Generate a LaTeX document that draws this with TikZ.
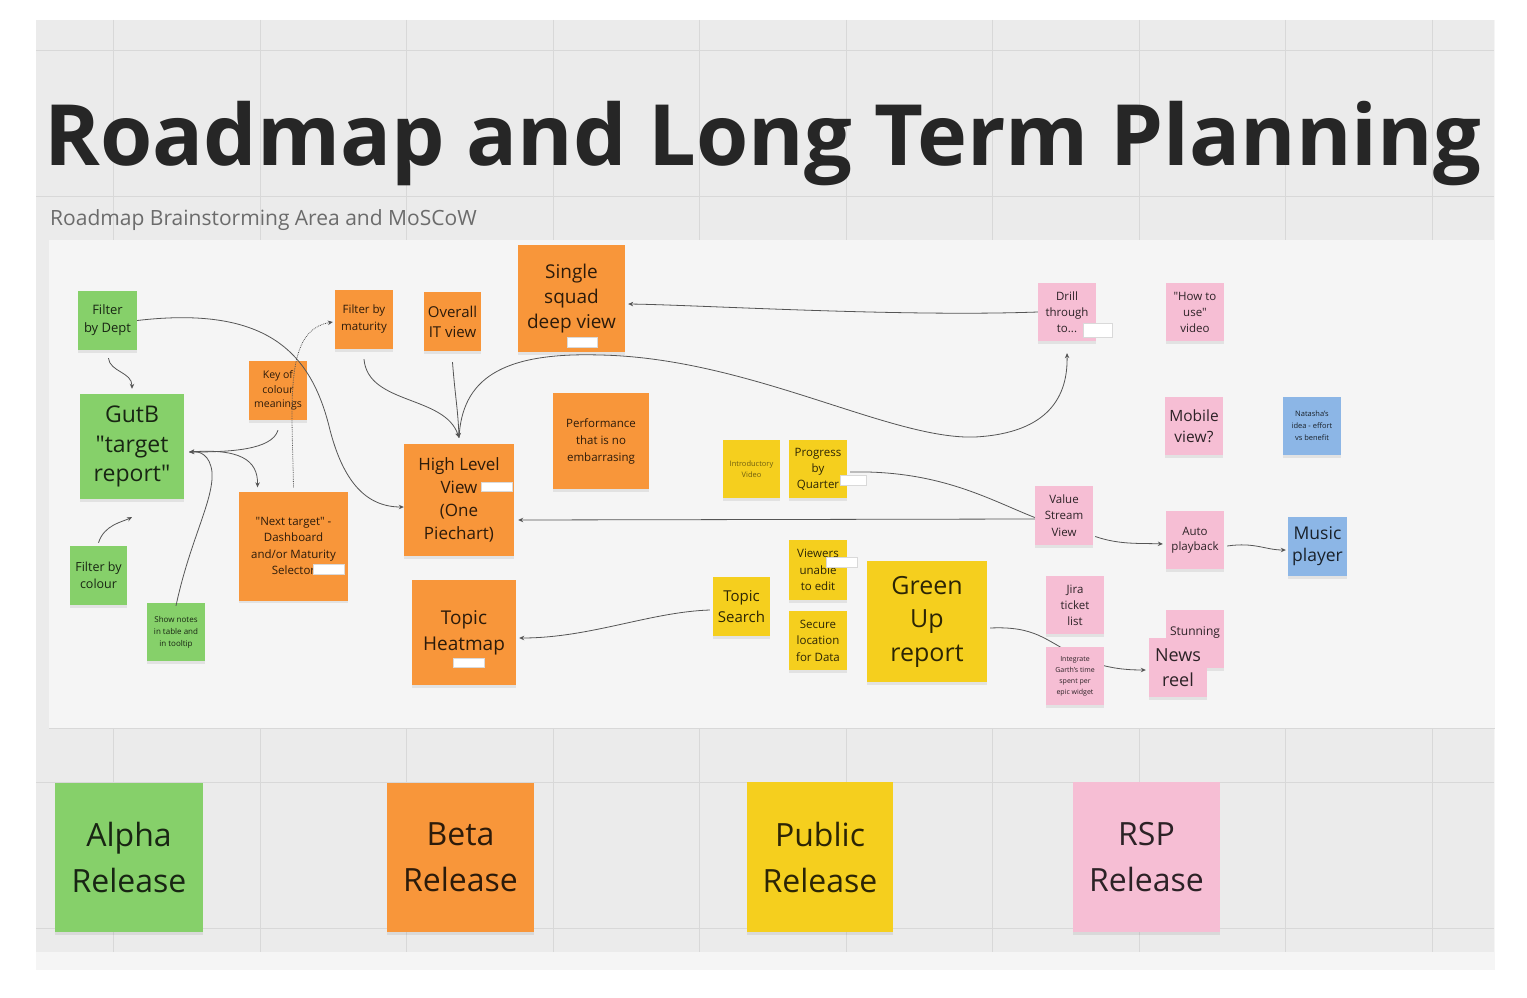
\documentclass[tikz,border=0pt]{standalone}
\usepackage{fontspec}
\setmainfont{Open Sans}
\usetikzlibrary{arrows.meta,shadows}

\definecolor{boardgray}{HTML}{EBEBEB}
\definecolor{gridgray}{HTML}{D8D8D8}
\definecolor{areawhite}{HTML}{F5F5F5}
\definecolor{notegreen}{HTML}{86D06A}
\definecolor{noteorange}{HTML}{F8963A}
\definecolor{noteyellow}{HTML}{F5CF1E}
\definecolor{notepink}{HTML}{F6BED4}
\definecolor{noteblue}{HTML}{8CB6E6}
\definecolor{wiregray}{HTML}{555555}

\newcommand\nf[2]{\fontsize{#1}{#2}\selectfont}
\newcommand\qq{\textquotedbl}

\pgfdeclarelayer{board}
\pgfdeclarelayer{wires}
\pgfsetlayers{board,wires,main}

\tikzset{
  note/.style={rectangle, align=center, inner sep=0pt, text=black, text opacity=0.82,
    drop shadow={shadow xshift=0pt, shadow yshift=-2.5pt, opacity=0.16}},
  sz/.style 2 args={minimum width=#1, minimum height=#2},
  gnote/.style={note, fill=notegreen},
  onote/.style={note, fill=noteorange},
  ynote/.style={note, fill=noteyellow},
  pnote/.style={note, fill=notepink},
  bnote/.style={note, fill=noteblue},
  wire/.style={draw=wiregray, line width=0.8pt, -{Stealth[length=5pt,width=4.5pt]}},
  badge/.style={fill=white, draw=black!15, line width=0.4pt},
}

\begin{document}
\begin{tikzpicture}[x=1pt,y=-1pt]
\useasboundingbox (0,0) rectangle (1527,998);

% board and grid
\begin{pgfonlayer}{board}
  \fill[white] (0,0) rectangle (1527,998);
  \fill[black!4] (36,20) rectangle (1495,970);
  \fill[boardgray] (36,20) rectangle (1494,952);
  \foreach \x in {113.5,260,406.5,553,699.5,846,992.5,1139,1285.5,1432}
    \draw[gridgray, line width=0.8pt] (\x,20) -- (\x,952);
  \foreach \y in {50,196,782,928}
    \draw[gridgray, line width=0.8pt] (36,\y) -- (1494,\y);
  \fill[areawhite] (49,240) rectangle (1495,728);
  \draw[gridgray, line width=0.6pt] (49,728) -- (1495,728);
\end{pgfonlayer}

\node[anchor=base west, inner sep=0pt, text=black!85] (title) at (44,165)
  {\resizebox{1437pt}{!}{\nf{88}{90}\bfseries Roadmap and Long Term Planning}};
\node[anchor=base west, inner sep=0pt, font=\nf{21}{24}, text=black!58] (sub) at (50,225) {Roadmap Brainstorming Area and MoSCoW};

% green notes
\node[gnote, sz={59pt}{59pt}, font=\nf{13}{18}] (fdept) at (107.5,320.5) {Filter\\by Dept};
\node[gnote, sz={104pt}{105pt}, font=\nf{23}{29.5}] (gutb) at (132,446.5) {GutB\\\qq target\\report\qq};
\node[gnote, sz={57pt}{59pt}, font=\nf{12.5}{17}] (fcolour) at (98.5,575.5) {Filter by\\colour};
\node[gnote, sz={58pt}{58pt}, font=\nf{8}{12}] (shownotes) at (176,632) {Show notes\\in table and\\in tooltip};

% orange notes
\node[onote, sz={58pt}{59pt}, font=\nf{10.5}{14.5}] (keycol) at (278,390.5) {Key of\\colour\\meanings};
\node[onote, sz={58pt}{59pt}, font=\nf{11.5}{17}] (fmat) at (364,319.5) {Filter by\\maturity};
\node[onote, sz={57pt}{59pt}, font=\nf{15}{20}] (overall) at (452.5,321.5) {Overall\\IT view};
\node[onote, sz={107pt}{107pt}, font=\nf{19}{25}] (single) at (571.5,298.5) {Single\\squad\\deep view};
\node[onote, sz={109pt}{109pt}, font=\nf{11.5}{16.5}] (nexttarget) at (293.5,546) {\qq Next target\qq\ -\\Dashboard\\and/or Maturity\\Selector};
\node[onote, sz={110pt}{112pt}, font=\nf{17}{23}] (hlv) at (459,500) {High Level\\View\\(One\\Piechart)};
\node[onote, sz={96pt}{96pt}, font=\nf{11.5}{17}] (perf) at (601,441) {Performance\\that is no\\embarrasing};
\node[onote, sz={104pt}{105pt}, font=\nf{19}{26}] (heatmap) at (464,632.5) {Topic\\Heatmap};

% yellow notes
\node[ynote, sz={57pt}{58pt}, font=\nf{7.5}{11}, text opacity=0.55] (introvid) at (751.5,469) {Introductory\\Video};
\node[ynote, sz={58pt}{58pt}, font=\nf{11.5}{16}] (progress) at (818,469) {Progress\\by\\Quarter};
\node[ynote, sz={58pt}{60pt}, font=\nf{11.5}{16.5}] (viewers) at (818,570) {Viewers\\unable\\to edit};
\node[ynote, sz={58pt}{59pt}, font=\nf{11.5}{16.5}] (secure) at (818,640.5) {Secure\\location\\for Data};
\node[ynote, sz={57pt}{59pt}, font=\nf{15}{21}] (toposearch) at (741.5,606.5) {Topic\\Search};
\node[ynote, sz={120pt}{121pt}, font=\nf{25}{33.5}] (greenup) at (927,621.5) {Green\\Up\\report};

% pink and blue notes
\node[pnote, sz={58pt}{58pt}, font=\nf{11.5}{16}] (drill) at (1067,312) {Drill\\through\\to...};
\node[pnote, sz={58pt}{58pt}, font=\nf{11.5}{16}] (howto) at (1195,312) {\qq How to\\use\qq\\video};
\node[pnote, sz={58pt}{58pt}, font=\nf{15.5}{21}] (mobile) at (1194,426) {Mobile\\view?};
\node[bnote, sz={58pt}{58pt}, font=\nf{7.5}{12}] (natasha) at (1312,426) {Natasha's\\idea - effort\\vs benefit};
\node[pnote, sz={58pt}{59pt}, font=\nf{11.5}{16.5}] (vsv) at (1064,515.5) {Value\\Stream\\View};
\node[pnote, sz={58pt}{58pt}, font=\nf{11.5}{15}] (autoplay) at (1195,540) {Auto\\playback};
\node[bnote, sz={59pt}{59pt}, font=\nf{17.5}{22}] (music) at (1317.5,546.5) {Music\\player};
\node[pnote, sz={58pt}{58pt}, font=\nf{11.5}{16}] (jira) at (1075,605) {Jira\\ticket\\list};
\node[pnote, sz={58pt}{58pt}, font=\nf{7}{11}] (integrate) at (1075,676) {Integrate\\Garth's time\\spent per\\epic widget};
\node[pnote, sz={58pt}{58pt},
  label={[anchor=north, yshift=-13pt, font=\nf{12}{16}, text opacity=0.82]north:Stunning}] (stunning) at (1195,639) {};
\node[pnote, sz={58pt}{59pt}, font=\nf{18}{25}] (newsreel) at (1178,667.5) {News\\reel};

% release notes
\node[gnote, sz={148pt}{149pt}, font=\nf{32}{46}] (alpha) at (129,857.5) {Alpha\\Release};
\node[onote, sz={147pt}{149pt}, font=\nf{32}{46}] (beta) at (460.5,857.5) {Beta\\Release};
\node[ynote, sz={146pt}{150pt}, font=\nf{32}{46}] (public) at (820,857) {Public\\Release};
\node[pnote, sz={147pt}{150pt}, font=\nf{32}{46}] (rsp) at (1146.5,857) {RSP\\Release};

% comment badges
\foreach \a/\b/\c/\d in {567/337/597/347, 481/482/512/491, 453/658/484/667, 313/564/344/574,
    840/475/866/485, 826/557/857/567, 1083/323/1112/337}
  \filldraw[badge] (\a,\b) rectangle (\c,\d);

% connectors
\draw[wire] (fdept.east) .. controls (270,305) and (312,355) .. (330,430)
  .. controls (343,480) and (365,507) .. ([yshift=-7pt]hlv.west);
\draw[wire, shorten <=8pt, shorten >=5pt] (fdept.south) .. controls (110,372) and (132,372) .. (gutb.north);
\draw[wire] ([yshift=-10pt]keycol.south) .. controls (272,450) and (230,452) .. ([xshift=5pt,yshift=-5.5pt]gutb.east);
\draw[wire] ([xshift=5pt,yshift=-5.5pt]gutb.east) .. controls (240,448) and (258,460) .. ([xshift=-36pt,yshift=4pt]nexttarget.north);
\draw[wire] ([yshift=-3pt]shownotes.north) .. controls (190,540) and (214,500) .. (212,472)
  .. controls (210,455) and (200,451) .. ([xshift=5pt,yshift=-5.5pt]gutb.east);
\draw[wire, densely dotted] ([yshift=4pt]nexttarget.north) .. controls (292,400) and (284,330) .. ([xshift=-2pt,yshift=-2.5pt]fmat.west);
\draw[wire] ([yshift=3pt]fcolour.north) .. controls (104,525) and (122,522) .. ([yshift=-18pt]gutb.south);
\draw[wire] ([yshift=-10pt]fmat.south) .. controls (368,405) and (445,395) .. ([yshift=6pt]hlv.north);
\draw[wire] ([yshift=-11pt]overall.south) .. controls (455,395) and (458,410) .. ([yshift=6pt]hlv.north);
\draw[wire] ([yshift=6pt]hlv.north) .. controls (462,380) and (500,352) .. (600,355)
  .. controls (750,358) and (890,440) .. (975,437)
  .. controls (1050,433) and (1068,395) .. ([yshift=-12pt]drill.south);
\draw[wire] (drill.west) .. controls (900,317) and (700,305) .. ([xshift=3pt,yshift=-5.5pt]single.east);
\draw[wire] ([yshift=-3.5pt]vsv.west) -- ([xshift=4pt,yshift=-20pt]hlv.east);
\draw[draw=wiregray, line width=0.8pt] ([xshift=3pt,yshift=-3pt]progress.east) .. controls (940,470) and (990,500) .. ([yshift=-2pt]vsv.west);
\draw[wire] ([xshift=2pt,yshift=-21pt]vsv.east) .. controls (1120,545) and (1140,543) .. ([xshift=-3pt,yshift=-4pt]autoplay.west);
\draw[wire] ([xshift=3pt,yshift=-6pt]autoplay.east) .. controls (1255,542) and (1265,550) .. ([xshift=-2pt,yshift=-3.5pt]music.west);
\draw[wire] ([xshift=-3pt,yshift=-3.5pt]toposearch.west) .. controls (650,612) and (590,638) .. ([xshift=3pt,yshift=-5.5pt]heatmap.east);
\begin{pgfonlayer}{wires}
  \draw[wire] ([xshift=3pt,yshift=-6.5pt]greenup.east) .. controls (1035,626) and (1045,640) .. (1075,655)
    .. controls (1100,667) and (1120,670) .. ([xshift=-3pt,yshift=-2.5pt]newsreel.west);
\end{pgfonlayer}
\end{tikzpicture}
\end{document}
